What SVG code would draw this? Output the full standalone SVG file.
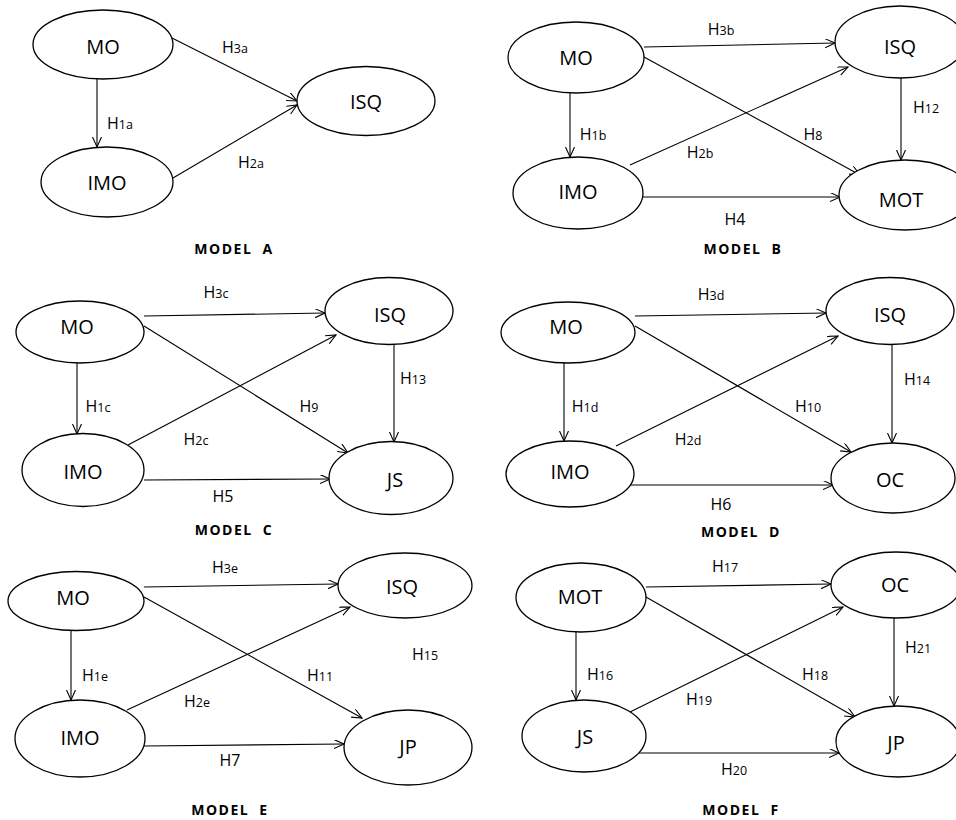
<svg xmlns="http://www.w3.org/2000/svg" width="956" height="820" viewBox="0 0 956 820">
  <style>
    .node ellipse { fill: #fff; stroke: #000; stroke-width: 1.3; }
    .node text { font-family: "Open Sans", "Liberation Sans", sans-serif; font-size: 20px; text-anchor: middle; fill: #000; }
    .edge { stroke: #000; stroke-width: 1.1; fill: none; marker-end: url(#arrow); }
    .lbl { font-family: "Open Sans", "Liberation Sans", sans-serif; font-size: 16px; text-anchor: middle; fill: #000; }
    .lbl tspan { font-size: 12.5px; }
    .title { font-family: "Open Sans", "Liberation Sans", sans-serif; font-size: 14px; font-weight: bold; letter-spacing: 1.5px; word-spacing: 5px; text-anchor: middle; fill: #000; }
  </style>
  <defs>
    <marker id="arrow" markerUnits="userSpaceOnUse" markerWidth="12" markerHeight="10" refX="10" refY="4.5" orient="auto">
      <path d="M0,0 L10,4.5 L0,9" fill="none" stroke="#000" stroke-width="1.1"/>
    </marker>
  </defs>
  <rect width="956" height="820" fill="#fff"/>

  <!-- Connectors -->
  <g id="connectors">
    <!-- Model A -->
    <g id="conn-a">
      <line class="edge" x1="172" y1="38" x2="297" y2="101"/>
      <line class="edge" x1="97" y1="79" x2="97" y2="147"/>
      <line class="edge" x1="173" y1="178" x2="297" y2="105"/>
      <text class="lbl" x="235" y="53">H<tspan>3a</tspan></text>
      <text class="lbl" x="120" y="129">H<tspan>1a</tspan></text>
      <text class="lbl" x="251" y="168">H<tspan>2a</tspan></text>
    </g>
    <!-- Model B -->
    <g id="conn-b">
      <line class="edge" x1="644" y1="47" x2="835" y2="43"/>
      <line class="edge" x1="644" y1="57" x2="860" y2="175"/>
      <line class="edge" x1="570" y1="93" x2="570" y2="157"/>
      <line class="edge" x1="630" y1="165" x2="848" y2="67"/>
      <line class="edge" x1="640" y1="197" x2="840" y2="197"/>
      <line class="edge" x1="901" y1="78" x2="901" y2="160"/>
      <text class="lbl" x="721" y="35">H<tspan>3b</tspan></text>
      <text class="lbl" x="813" y="140">H<tspan>8</tspan></text>
      <text class="lbl" x="593" y="140">H<tspan>1b</tspan></text>
      <text class="lbl" x="700" y="158">H<tspan>2b</tspan></text>
      <text class="lbl" x="735" y="225">H4</text>
      <text class="lbl" x="926" y="113">H<tspan>12</tspan></text>
    </g>
    <!-- Model C -->
    <g id="conn-c">
      <line class="edge" x1="144" y1="316" x2="325" y2="313"/>
      <line class="edge" x1="144" y1="326" x2="348" y2="453"/>
      <line class="edge" x1="77" y1="363" x2="77" y2="434"/>
      <line class="edge" x1="128" y1="445" x2="336" y2="335"/>
      <line class="edge" x1="144" y1="480" x2="330" y2="479"/>
      <line class="edge" x1="394" y1="345" x2="394" y2="442"/>
      <text class="lbl" x="216" y="298">H<tspan>3c</tspan></text>
      <text class="lbl" x="309" y="412">H<tspan>9</tspan></text>
      <text class="lbl" x="98" y="412">H<tspan>1c</tspan></text>
      <text class="lbl" x="196" y="445">H<tspan>2c</tspan></text>
      <text class="lbl" x="223" y="502">H5</text>
      <text class="lbl" x="413" y="384">H<tspan>13</tspan></text>
    </g>
    <!-- Model D -->
    <g id="conn-d">
      <line class="edge" x1="635" y1="316" x2="826" y2="313"/>
      <line class="edge" x1="635" y1="326" x2="851" y2="452"/>
      <line class="edge" x1="564" y1="363" x2="564" y2="441"/>
      <line class="edge" x1="616" y1="446" x2="838" y2="336"/>
      <line class="edge" x1="630" y1="485" x2="833" y2="485"/>
      <line class="edge" x1="892" y1="345" x2="892" y2="443"/>
      <text class="lbl" x="711" y="300">H<tspan>3d</tspan></text>
      <text class="lbl" x="808" y="412">H<tspan>10</tspan></text>
      <text class="lbl" x="585" y="412">H<tspan>1d</tspan></text>
      <text class="lbl" x="688" y="445">H<tspan>2d</tspan></text>
      <text class="lbl" x="721" y="510">H6</text>
      <text class="lbl" x="917" y="385">H<tspan>14</tspan></text>
    </g>
    <!-- Model E -->
    <g id="conn-e">
      <line class="edge" x1="144" y1="587" x2="338" y2="584"/>
      <line class="edge" x1="144" y1="597" x2="362" y2="718"/>
      <line class="edge" x1="71" y1="630" x2="71" y2="700"/>
      <line class="edge" x1="127" y1="710" x2="350" y2="607"/>
      <line class="edge" x1="144" y1="746" x2="344" y2="744"/>
      <text class="lbl" x="225" y="573">H<tspan>3e</tspan></text>
      <text class="lbl" x="320" y="681">H<tspan>11</tspan></text>
      <text class="lbl" x="95" y="681">H<tspan>1e</tspan></text>
      <text class="lbl" x="197" y="707">H<tspan>2e</tspan></text>
      <text class="lbl" x="230" y="766">H7</text>
      <text class="lbl" x="425" y="660">H<tspan>15</tspan></text>
    </g>
    <!-- Model F -->
    <g id="conn-f">
      <line class="edge" x1="646" y1="587" x2="831" y2="584"/>
      <line class="edge" x1="646" y1="597" x2="855" y2="717"/>
      <line class="edge" x1="576" y1="632" x2="576" y2="700"/>
      <line class="edge" x1="630" y1="712" x2="843" y2="607"/>
      <line class="edge" x1="636" y1="753" x2="839" y2="753"/>
      <line class="edge" x1="894" y1="618" x2="894" y2="706"/>
      <text class="lbl" x="725" y="572">H<tspan>17</tspan></text>
      <text class="lbl" x="815" y="680">H<tspan>18</tspan></text>
      <text class="lbl" x="600" y="680">H<tspan>16</tspan></text>
      <text class="lbl" x="699" y="705">H<tspan>19</tspan></text>
      <text class="lbl" x="734" y="775">H<tspan>20</tspan></text>
      <text class="lbl" x="918" y="653">H<tspan>21</tspan></text>
    </g>
  </g>

  <!-- Model A nodes -->
  <g id="a-mo" class="node"><ellipse cx="103" cy="44.5" rx="70" ry="34.5"/><text x="103" y="53.5">MO</text></g>
  <g id="a-imo" class="node"><ellipse cx="107" cy="182" rx="66" ry="35"/><text x="107" y="190">IMO</text></g>
  <g id="a-isq" class="node"><ellipse cx="366" cy="101" rx="69" ry="34.5"/><text x="366" y="109">ISQ</text></g>

  <!-- Model B nodes -->
  <g id="b-mo" class="node"><ellipse cx="576" cy="57.5" rx="68" ry="35.5"/><text x="576" y="65">MO</text></g>
  <g id="b-imo" class="node"><ellipse cx="578" cy="193" rx="65" ry="36"/><text x="578" y="199">IMO</text></g>
  <g id="b-isq" class="node"><ellipse cx="900" cy="42" rx="65" ry="36"/><text x="900" y="54">ISQ</text></g>
  <g id="b-mot" class="node"><ellipse cx="905" cy="195" rx="66" ry="35"/><text x="901" y="207">MOT</text></g>

  <!-- Model C nodes -->
  <g id="c-mo" class="node"><ellipse cx="80" cy="332" rx="64" ry="31"/><text x="77" y="334">MO</text></g>
  <g id="c-isq" class="node"><ellipse cx="389" cy="311" rx="64" ry="33.5"/><text x="390" y="322">ISQ</text></g>
  <g id="c-imo" class="node"><ellipse cx="83" cy="470" rx="61" ry="36.5"/><text x="83" y="479">IMO</text></g>
  <g id="c-js" class="node"><ellipse cx="391" cy="478" rx="62" ry="36.5"/><text x="395" y="487">JS</text></g>

  <!-- Model D nodes -->
  <g id="d-mo" class="node"><ellipse cx="568" cy="332.5" rx="67" ry="30.5"/><text x="566" y="334">MO</text></g>
  <g id="d-isq" class="node"><ellipse cx="890" cy="311" rx="64" ry="33.5"/><text x="890" y="322">ISQ</text></g>
  <g id="d-imo" class="node"><ellipse cx="570" cy="474" rx="64" ry="33"/><text x="570" y="479">IMO</text></g>
  <g id="d-oc" class="node"><ellipse cx="893" cy="478" rx="62" ry="35"/><text x="890" y="487">OC</text></g>

  <!-- Model E nodes -->
  <g id="e-mo" class="node"><ellipse cx="76" cy="601" rx="68" ry="29.5"/><text x="73" y="605">MO</text></g>
  <g id="e-isq" class="node"><ellipse cx="405" cy="585.5" rx="67" ry="32.5"/><text x="402" y="594">ISQ</text></g>
  <g id="e-imo" class="node"><ellipse cx="80" cy="738.5" rx="65" ry="38.5"/><text x="80" y="745">IMO</text></g>
  <g id="e-jp" class="node"><ellipse cx="408" cy="747.5" rx="64" ry="37.5"/><text x="408" y="754">JP</text></g>

  <!-- Model F nodes -->
  <g id="f-mot" class="node"><ellipse cx="581" cy="597.5" rx="65" ry="34.5"/><text x="580" y="604">MOT</text></g>
  <g id="f-oc" class="node"><ellipse cx="896" cy="585" rx="65" ry="33"/><text x="895" y="592">OC</text></g>
  <g id="f-js" class="node"><ellipse cx="584" cy="736" rx="62" ry="36"/><text x="585" y="744">JS</text></g>
  <g id="f-jp" class="node"><ellipse cx="898" cy="741.5" rx="62" ry="35.5"/><text x="896" y="750">JP</text></g>

  <!-- Model captions -->
  <g id="captions">
    <text class="title" x="234" y="254">MODEL A</text>
    <text class="title" x="743" y="254">MODEL B</text>
    <text class="title" x="234" y="535">MODEL C</text>
    <text class="title" x="741" y="537">MODEL D</text>
    <text class="title" x="230" y="815">MODEL E</text>
    <text class="title" x="741" y="815">MODEL F</text>
  </g>
</svg>
